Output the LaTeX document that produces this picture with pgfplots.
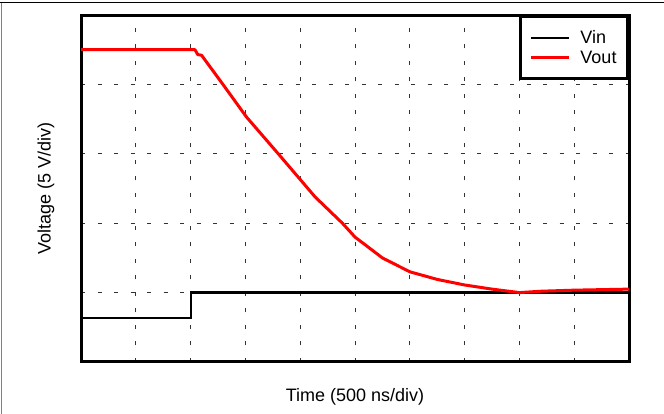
\documentclass[border=0pt]{standalone}
\usepackage{fontspec}
\setmainfont{Liberation Sans}
\usepackage{pgfplots}
\pgfplotsset{compat=1.18}
\begin{document}
\begin{tikzpicture}[x=1pt,y=1pt]
\path[use as bounding box] (0,0) rectangle (664,414);
\draw[black, line width=1pt] (0,411) -- (664,411);
\draw[black!50, line width=1pt] (1,0) -- (1,411);
\begin{axis}[
  at={(81pt,52pt)}, anchor=south west,
  scale only axis, width=548pt, height=347pt,
  xmin=0, xmax=10, ymin=0, ymax=5,
  xtick={1,2,3,4,5,6,7,8,9}, ytick={1,2,3,4},
  xticklabels={}, yticklabels={},
  major tick length=0pt,
  grid=major,
  major grid style={draw=black!80, line width=1pt, dash pattern=on 4pt off 12.5pt},
  axis line style={line width=3pt},
  xlabel={Time (500 ns/div)},
  ylabel={Voltage (5 V/div)},
  label style={font=\fontsize{18}{20}\selectfont},
  xlabel style={at={(axis description cs:0.5,-0.101)}, anchor=center},
  ylabel style={at={(axis description cs:-0.064,0.5)}, anchor=center},
  legend style={at={(1,1)}, anchor=north east, draw=black, line width=3pt,
    font=\fontsize{18}{20}\selectfont, inner xsep=9pt, inner ysep=12pt,
    row sep=2pt, cells={anchor=west}},
  legend image code/.code={\draw[#1] (0pt,0pt) -- (38pt,0pt); \path (46pt,0pt);},
]
\addplot[black, line width=2.2pt] coordinates {
(0,0.634) (2.0,0.634) (2.0,1.0) (10,1.0)
};
\addlegendentry{Vin}
\addplot[red, line width=3pt, line join=round] coordinates {
(0,4.5) (2.08,4.5) (2.13,4.43) (2.2,4.42) (2.59,4.0) (3.02,3.53) (3.60,3.0)
(4.0,2.63) (4.27,2.38) (4.77,2.0) (5.0,1.80) (5.5,1.50) (6.0,1.30)
(6.5,1.19) (7.0,1.11) (7.5,1.05) (8.0,1.0) (8.4,1.02) (9.0,1.035) (10,1.05)
};
\addlegendentry{Vout}
\end{axis}
\end{tikzpicture}
\end{document}
